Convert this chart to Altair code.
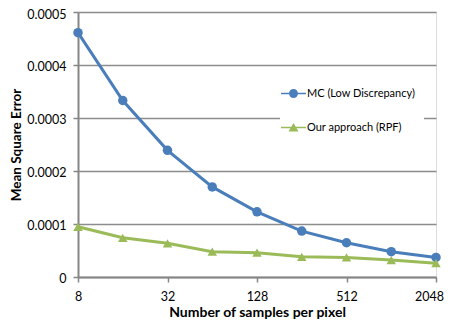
import altair as alt
import pandas as pd

samples = [8, 16, 32, 64, 128, 256, 512, 1024, 2048]
mc_values = [0.000461, 0.000333, 0.000239, 0.000170, 0.000123, 0.0000866, 0.0000646, 0.0000477, 0.0000370]
rpf_values = [0.0000947, 0.0000740, 0.0000635, 0.0000477, 0.0000458, 0.0000380, 0.0000370, 0.0000320, 0.0000260]
series_names = ["MC (Low Discrepancy)", "Our approach (RPF)"]
series_colors = ["#4A7EBB", "#9BBB59"]
x_ticks = [8, 32, 128, 512, 2048]
y_ticks = [0, 0.0001, 0.0002, 0.0003, 0.0004, 0.0005]

rows = []
for s, v in zip(samples, mc_values):
    rows.append({"samples": s, "mse": v, "series": series_names[0]})
for s, v in zip(samples, rpf_values):
    rows.append({"samples": s, "mse": v, "series": series_names[1]})
df = pd.DataFrame(rows)

FONT = "Lato"

x_enc = alt.X(
    "samples:Q",
    scale=alt.Scale(type="log", base=2, domain=[8, 2048], nice=False),
    axis=alt.Axis(
        values=x_ticks, title="Number of samples per pixel", grid=False, format="d",
        labelFont=FONT, labelFontSize=12.5, labelColor="#000000",
        labelOffset=alt.condition("datum.value >= 2048", alt.value(-7), alt.value(0)),
        titleFont=FONT, titleFontSize=14, titleFontWeight="bold", titleColor="#000000",
        domainColor="#868686", domainWidth=2, tickColor="#868686", tickWidth=1.5,
        tickSize=5, labelPadding=8, titlePadding=3, labelFlush=False,
    ),
)
y_enc = alt.Y(
    "mse:Q",
    scale=alt.Scale(domain=[0, 0.0005], nice=False),
    axis=alt.Axis(
        values=y_ticks, title="Mean Square Error",
        labelExpr="datum.value == 0 ? '0' : format(datum.value, '.4f')",
        labelFont=FONT, labelFontSize=12.5, labelColor="#000000",
        labelOffset=alt.condition("datum.value >= 0.0005", alt.value(2.5), alt.value(1)),
        titleFont=FONT, titleFontSize=13.5, titleFontWeight="bold", titleColor="#000000",
        domainColor="#868686", domainWidth=2, tickColor="#868686", tickWidth=1.5,
        tickSize=5, labelPadding=7, titlePadding=3,
        gridColor="#8C8C8C", gridWidth=1.5,
    ),
)

color_scale = alt.Scale(domain=series_names, range=series_colors)

lines = alt.Chart(df).mark_line(strokeWidth=3).encode(
    x=x_enc, y=y_enc,
    color=alt.Color("series:N", scale=color_scale, legend=None),
)
points = alt.Chart(df).mark_point(filled=True, opacity=1, size=90).encode(
    x=x_enc, y=y_enc,
    color=alt.Color("series:N", scale=color_scale, legend=None),
    shape=alt.Shape("series:N", scale=alt.Scale(domain=series_names, range=["circle", "triangle-up"]), legend=None),
)

circle_path = ("M-2.5,-0.15 L2.5,-0.15 L2.5,0.15 L-2.5,0.15 Z "
               "M0.9,0 A0.9,0.9 0 1,1 -0.9,0 A0.9,0.9 0 1,1 0.9,0 Z")
tri_path = ("M-2.5,-0.15 L2.5,-0.15 L2.5,0.15 L-2.5,0.15 Z "
            "M0,-0.9 L1,0.8 L-1,0.8 Z")

legend_props = dict(
    title=None, orient="none", legendX=202, legendY=68,
    fillColor="white", padding=8, rowPadding=22,
    labelFont=FONT, labelFontSize=11, labelColor="#000000", labelOffset=8,
    symbolSize=100, symbolOpacity=1, symbolStrokeWidth=0,
)
legend_layer = alt.Chart(df).mark_point(filled=True, opacity=0).encode(
    x=x_enc, y=y_enc,
    color=alt.Color("series:N", scale=alt.Scale(domain=series_names, range=series_colors),
                    legend=alt.Legend(**legend_props)),
    shape=alt.Shape("series:N", scale=alt.Scale(domain=series_names, range=[circle_path, tri_path]),
                    legend=alt.Legend(**legend_props)),
)

chart = alt.layer(lines, points, legend_layer).resolve_scale(
    color="independent", shape="independent"
).properties(
    width=358, height=265,
    autosize=alt.AutoSizeParams(type="none"),
    padding={"left": 70, "top": 4, "right": 8, "bottom": 43},
).configure_view(
    stroke="#000000", strokeWidth=1.5
).configure(background="white")

chart.save("out.html", embed_options={"renderer": "svg", "actions": False})
